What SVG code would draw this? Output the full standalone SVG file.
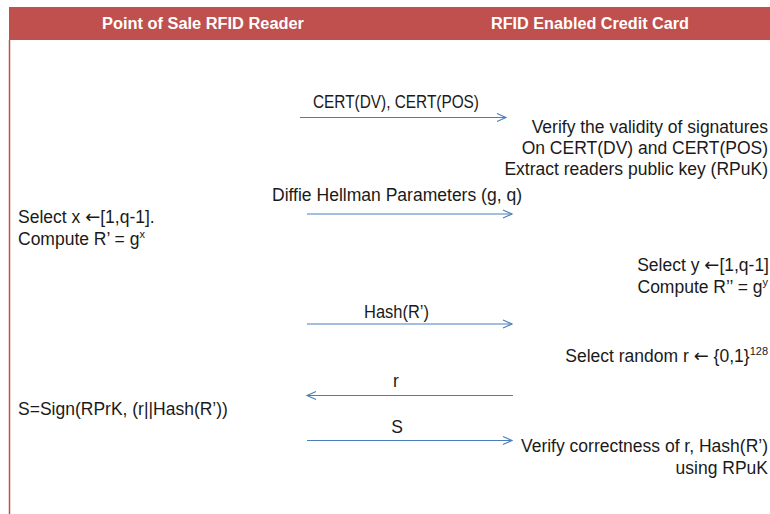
<svg xmlns="http://www.w3.org/2000/svg" width="770" height="514" viewBox="0 0 770 514">
<style>
.hdr{font-family:"Liberation Sans",Arial,sans-serif;font-weight:bold;font-size:16px;fill:#ffffff}
.t{font-family:"Liberation Sans",Arial,sans-serif;font-size:17.5px;fill:#1a1a1a}
.sup{font-size:11px}
.arw{font-family:"DejaVu Sans",sans-serif;font-size:18px}
.msg{stroke:#4A7EBB;stroke-width:1.1;fill:none}
</style>
<defs>
<marker id="ah" markerWidth="12" markerHeight="10" refX="10" refY="5" orient="auto" markerUnits="userSpaceOnUse">
<path d="M1,1 L10,5 L1,9" fill="none" stroke="#4A7EBB" stroke-width="1.1"/>
</marker>
</defs>
<rect x="0" y="0" width="770" height="514" fill="#ffffff"/>
<g id="header">
<rect x="9" y="7" width="761" height="33" fill="#C0504D"/>
<line x1="9.5" y1="40" x2="9.5" y2="514" stroke="#C0504D" stroke-width="1.5"/>
<text class="hdr" x="203" y="28.5" text-anchor="middle" textLength="202" lengthAdjust="spacingAndGlyphs">Point of Sale RFID Reader</text>
<text class="hdr" x="590" y="28.5" text-anchor="middle" textLength="198" lengthAdjust="spacingAndGlyphs">RFID Enabled Credit Card</text>
</g>
<g id="connectors">
<line class="msg" x1="300" y1="117.5" x2="506" y2="117.5" marker-end="url(#ah)"/>
<line class="msg" x1="307" y1="214" x2="512" y2="214" marker-end="url(#ah)"/>
<line class="msg" x1="307" y1="324" x2="512" y2="324" marker-end="url(#ah)"/>
<line class="msg" x1="513" y1="395.5" x2="307" y2="395.5" marker-end="url(#ah)"/>
<line class="msg" x1="307" y1="440.5" x2="512" y2="440.5" marker-end="url(#ah)"/>
</g>
<g id="labels">
<text class="t" x="313" y="108" textLength="166" lengthAdjust="spacingAndGlyphs">CERT(DV), CERT(POS)</text>
<text class="t" x="272" y="201" textLength="250" lengthAdjust="spacingAndGlyphs">Diffie Hellman Parameters (g, q)</text>
<text class="t" x="364" y="318" textLength="65" lengthAdjust="spacingAndGlyphs">Hash(R’)</text>
<text class="t" x="396" y="387" text-anchor="middle">r</text>
<text class="t" x="397" y="433" text-anchor="middle">S</text>
</g>
<g id="reader">
<text class="t" x="18" y="223">Select x <tspan class="arw">←</tspan>[1,q-1].</text>
<text class="t" x="18" y="245">Compute R’ = g<tspan class="sup" dy="-7">x</tspan></text>
<text class="t" x="18" y="415">S=Sign(RPrK, (r||Hash(R’))</text>
</g>
<g id="card">
<text class="t" x="768" y="133" text-anchor="end">Verify the validity of signatures</text>
<text class="t" x="768" y="154" text-anchor="end">On CERT(DV) and CERT(POS)</text>
<text class="t" x="768" y="175" text-anchor="end">Extract readers public key (RPuK)</text>
<text class="t" x="769" y="271" text-anchor="end">Select y <tspan class="arw">←</tspan>[1,q-1]</text>
<text class="t" x="768" y="293" text-anchor="end">Compute R’’ = g<tspan class="sup" dy="-7">y</tspan></text>
<text class="t" x="768" y="362" text-anchor="end">Select random r <tspan class="arw">←</tspan> {0,1}<tspan class="sup" dy="-7">128</tspan></text>
<text class="t" x="768" y="452" text-anchor="end">Verify correctness of r, Hash(R’)</text>
<text class="t" x="768" y="474" text-anchor="end">using RPuK</text>
</g>
</svg>
